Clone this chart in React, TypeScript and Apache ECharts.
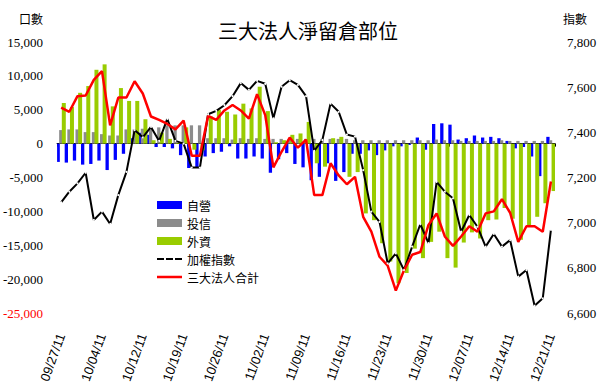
import React, { useEffect, useRef } from "react";
import * as echarts from "echarts";

const dates = [
  "09/27/11", "09/28/11", "09/29/11", "09/30/11", "10/03/11", "10/04/11", "10/05/11", "10/06/11", "10/07/11", "10/11/11",
  "10/12/11", "10/13/11", "10/14/11", "10/17/11", "10/18/11", "10/19/11", "10/20/11", "10/21/11", "10/24/11", "10/25/11",
  "10/26/11", "10/27/11", "10/28/11", "10/31/11", "11/01/11", "11/02/11", "11/03/11", "11/04/11", "11/07/11", "11/08/11",
  "11/09/11", "11/10/11", "11/11/11", "11/14/11", "11/15/11", "11/16/11", "11/17/11", "11/18/11", "11/21/11", "11/22/11",
  "11/23/11", "11/24/11", "11/25/11", "11/28/11", "11/29/11", "11/30/11", "12/01/11", "12/02/11", "12/05/11", "12/06/11",
  "12/07/11", "12/08/11", "12/09/11", "12/12/11", "12/13/11", "12/14/11", "12/15/11", "12/16/11", "12/19/11", "12/20/11",
  "12/21/11",
];

// 自營
const dealers = [
  -2700, -2800, -2500, -3100, -3000, -2500, -3900, -2400, -1500, 800,
  1600, 1300, -500, -500, -700, -1700, -3600, -3600, -1900, -1400,
  -1200, -400, -2200, -2200, -1900, -2200, -4300, -2300, -1400, -3000,
  -3500, -5400, -4900, -2900, -5500, -4200, -1500, -1500, -1000, -1700,
  -1000, -400, -400, -200, 900, -900, 2900, 3000, 2800, 600,
  800, 1200, 900, 1000, 800, 400, -700, -500, -1900, -4800,
  1000,
];

// 投信
const trusts = [
  2000, 2100, 2100, 1700, 1700, 1400, 1200, 1200, 2100, 2100,
  2200, 2200, 2400, 2700, 2700, 2700, 2700, 2700, 800, 800,
  800, 600, 800, 700, 800, 700, 700, 700, 700, 700,
  700, 700, 700, 700, 700, 700, 500, 500, 500, 500,
  500, 500, 500, 500, 500, 500, 600, 500, 500, 400,
  400, 400, 400, 400, 500, 400, 400, 400, 400, 400,
  500,
];

// 外資
const foreign = [
  6000, 5400, 7500, 8500, 10900, 11700, 5500, 8200, 6300, 6300,
  3600, 500, 1600, 700, 100, 2400, -900, -1000, 4000, 5000,
  4700, 4300, 5900, 5200, 8400, 4800, 200, 500, 1300, 1500,
  3200, -2900, -3400, 800, 1000, -4900, -4200, -10300, -11300, -14700,
  -17400, -20600, -19100, -15500, -16900, -14500, -13000, -16900, -18300, -14600,
  -13100, -14000, -11300, -11200, -9500, -11100, -14200, -12100, -10800, -8800,
  -7000,
];

// 加權指數
const taiex = [
  7090, 7137, 7174, 7221, 7012, 7049, 6994, 7122, 7225, 7410,
  7378, 7424, 7362, 7460, 7362, 7350, 7244, 7244, 7480, 7495,
  7520, 7560, 7618, 7588, 7628, 7615, 7462, 7602, 7631, 7610,
  7560, 7318, 7366, 7527, 7491, 7390, 7381, 7233, 7049, 7004,
  6820, 6864, 6790, 6894, 6993, 6909, 7181, 7137, 7108, 6960,
  7034, 6982, 6894, 6950, 6894, 6923, 6761, 6790, 6632, 6665,
  6968,
];

// 三大法人合計
const total = [
  5300, 4700, 7000, 7100, 9400, 10700, 2700, 6800, 6800, 9200,
  7400, 4000, 3500, 2900, 2100, 3400, -1800, -1800, 4100, 3500,
  4900, 5700, 4900, 3700, 7300, 4200, -3500, -1200, 900, -600,
  600, -7600, -7600, -2900, -4700, -6000, -4900, -10800, -13000, -16700,
  -18000, -21700, -18700, -16400, -16000, -12000, -10300, -13700, -15100, -13700,
  -12200, -13000, -10300, -10000, -8200, -10200, -14500, -12200, -12200, -13000,
  -5600,
];

const cjk = '"Noto Sans CJK TC", "Noto Sans CJK SC", sans-serif';
const corners = " M0,0h0.05v0.05h-0.05z M24.95,7.95h0.05v0.05h-0.05z";
const dashIcon = "path://M0,3h7v2h-7z M9,3h7v2h-7z M18,3h7v2h-7z" + corners;
const solidIcon = "path://M0,2.75h25v2.5h-25z" + corners;

export default function App() {
  const ref = useRef<HTMLDivElement>(null);

  useEffect(() => {
    if (!ref.current) return;
    const chart = echarts.init(ref.current, null, { renderer: "svg" });
    const fmt = (v: number) => v.toLocaleString("en-US");
    chart.setOption({
      animation: false,
      backgroundColor: "#ffffff",
      title: {
        text: "三大法人淨留倉部位",
        left: 213,
        top: 15,
        textStyle: { fontFamily: cjk, fontSize: 20, fontWeight: "normal", color: "#000" },
      },
      graphic: [
        {
          type: "text",
          left: 19,
          top: 12,
          style: { text: "口數", font: `12px ${cjk}`, fill: "#000" },
        },
        {
          type: "text",
          left: 563,
          top: 12,
          style: { text: "指數", font: `12px ${cjk}`, fill: "#000" },
        },
      ],
      legend: {
        orient: "vertical",
        left: 152,
        top: 194,
        itemWidth: 25,
        itemHeight: 8,
        itemGap: 6,
        textStyle: { fontFamily: cjk, fontSize: 12, color: "#000" },
        data: [
          { name: "自營", icon: "rect" },
          { name: "投信", icon: "rect" },
          { name: "外資", icon: "rect" },
          { name: "加權指數", icon: dashIcon, itemStyle: { color: "#000" } },
          { name: "三大法人合計", icon: solidIcon, itemStyle: { color: "#ff0000" } },
        ],
      },
      grid: { left: 56, right: 45, top: 42, bottom: 73 },
      xAxis: [
        {
          type: "category",
          data: dates,
          position: "bottom",
          axisLine: { show: false, onZero: false },
          axisTick: { show: false },
          splitLine: { show: false },
          axisLabel: {
            interval: 4,
            rotate: 70,
            fontFamily: '"Liberation Sans", Arial, sans-serif',
            fontSize: 13,
            color: "#000",
            margin: 21,
          },
        },
        {
          type: "category",
          data: dates,
          position: "bottom",
          axisLine: {
            show: true,
            onZero: true,
            onZeroAxisIndex: 0,
            lineStyle: { color: "#000", width: 1 },
          },
          axisTick: { show: true, length: 3, lineStyle: { color: "#000" } },
          axisLabel: { show: false },
          splitLine: { show: false },
        },
      ],
      yAxis: [
        {
          type: "value",
          min: -25000,
          max: 15000,
          interval: 5000,
          position: "left",
          axisLine: { show: false },
          axisTick: { show: false },
          splitLine: { show: false },
          axisLabel: {
            fontFamily: '"Liberation Serif", "Times New Roman", serif',
            fontSize: 13,
            margin: 14,
            color: (v: any) => (Number(v) <= -25000 ? "#ff0000" : "#000000"),
            formatter: (v: number) => fmt(v),
          },
        },
        {
          type: "value",
          min: 6600,
          max: 7800,
          interval: 200,
          position: "right",
          axisLine: { show: false },
          axisTick: { show: false },
          splitLine: { show: false },
          axisLabel: {
            fontFamily: '"Liberation Serif", "Times New Roman", serif',
            fontSize: 13,
            margin: 12,
            color: "#000",
            formatter: (v: number) => fmt(v),
          },
        },
      ],
      series: [
        {
          name: "自營",
          type: "bar",
          data: dealers,
          barWidth: 3.3,
          barGap: "-20%",
          itemStyle: { color: "#0000ff" },
        },
        {
          name: "投信",
          type: "bar",
          data: trusts,
          barWidth: 3.3,
          barGap: "-20%",
          itemStyle: { color: "#8c8c8c" },
        },
        {
          name: "外資",
          type: "bar",
          data: foreign,
          barWidth: 4,
          barGap: "-20%",
          itemStyle: { color: "#99cc00" },
        },
        {
          name: "加權指數",
          type: "line",
          yAxisIndex: 1,
          data: taiex,
          symbol: "circle",
          symbolSize: 2,
          itemStyle: { color: "#ffffff", borderWidth: 0 },
          lineStyle: { color: "#000000", width: 2 },
        },
        {
          name: "三大法人合計",
          type: "line",
          data: total,
          symbol: "none",
          itemStyle: { color: "#ff0000" },
          lineStyle: { color: "#ff0000", width: 2.5 },
        },
      ],
    });
    return () => chart.dispose();
  }, []);

  return (
    <div
      ref={ref}
      style={{ position: "fixed", left: 0, top: 0, width: 600, height: 386, background: "#fff" }}
    />
  );
}
